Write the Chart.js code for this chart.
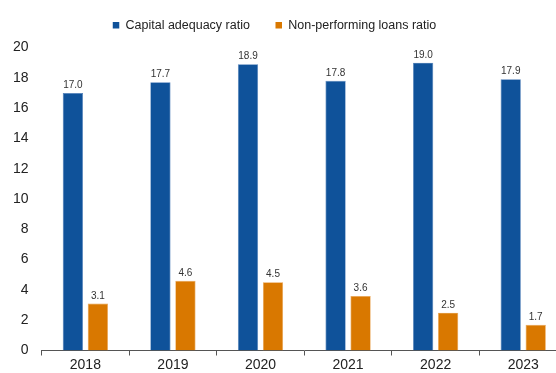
<!DOCTYPE html>
<html>
<head>
<meta charset="utf-8">
<script src="https://cdn.jsdelivr.net/npm/chart.js@4/dist/chart.umd.min.js"></script>
<style>
  html, body { margin: 0; padding: 0; background: #fff; overflow: hidden; }
  /* the plot runs a little past the right edge of the window */
  #wrap { width: 567px; height: 373px; }
</style>
</head>
<body>
<div id="wrap"><canvas id="chart"></canvas></div>
<script>
// Yearly bank ratios (%)
const years = ['2018', '2019', '2020', '2021', '2022', '2023'];
const capitalAdequacy = [17.0, 17.7, 18.9, 17.8, 19.0, 17.9];
const nplRatio = [3.1, 4.6, 4.5, 3.6, 2.5, 1.7];
const yTicks = [0, 2, 4, 6, 8, 10, 12, 14, 16, 18, 20];

const BLUE = '#0f529a';
const ORANGE = '#d97800';
const FONT = '"Liberation Sans", Arial, sans-serif';

// Write the value above every bar
const valueLabels = {
  id: 'valueLabels',
  afterDatasetsDraw(chart) {
    const ctx = chart.ctx;
    ctx.save();
    ctx.font = '10px ' + FONT;
    ctx.fillStyle = '#333';
    ctx.textAlign = 'center';
    ctx.textBaseline = 'alphabetic';
    chart.data.datasets.forEach((ds, i) => {
      chart.getDatasetMeta(i).data.forEach((bar, j) => {
        ctx.fillText(ds.data[j].toFixed(1), bar.x, bar.y - 5);
      });
    });
    ctx.restore();
  }
};

// Pull the legend up and a little left, keeping the wide gap between items
const legendNudge = {
  id: 'legendNudge',
  afterLayout(chart) {
    const lg = chart.legend;
    lg.top -= 5.9;
    lg.bottom -= 5.9;
    lg.left -= 9;
    lg.right -= 9;
  }
};

new Chart(document.getElementById('chart'), {
  type: 'bar',
  data: {
    labels: years,
    datasets: [
      {
        label: 'Capital adequacy ratio',
        data: capitalAdequacy,
        backgroundColor: BLUE,
        borderColor: '#4d7db8',
        borderWidth: 0.7,
        barPercentage: 0.81,
        categoryPercentage: 0.571
      },
      {
        label: 'Non-performing loans ratio',
        data: nplRatio,
        backgroundColor: ORANGE,
        borderColor: '#e9a04c',
        borderWidth: 0.7,
        barPercentage: 0.81,
        categoryPercentage: 0.571
      }
    ]
  },
  options: {
    responsive: true,
    maintainAspectRatio: false,
    animation: false,
    layout: { padding: { left: 0, right: 0, top: -0.6, bottom: -1.3 } },
    plugins: {
      tooltip: { enabled: false },
      legend: {
        position: 'top',
        align: 'center',
        labels: {
          boxWidth: 6.5,
          boxHeight: 6.5,
          padding: 25.6,
          color: '#222',
          font: { family: FONT, size: 12.5 },
          generateLabels(chart) {
            return Chart.defaults.plugins.legend.labels.generateLabels(chart)
              .map(item => Object.assign(item, { lineWidth: 0 }));
          }
        }
      }
    },
    scales: {
      x: {
        grid: {
          display: true,
          drawOnChartArea: false,
          drawTicks: true,
          tickLength: 5,
          offset: true,
          color: '#555'
        },
        border: { display: true, color: '#555', width: 1 },
        ticks: {
          color: '#222',
          padding: 1,
          font: { family: FONT, size: 14 }
        }
      },
      y: {
        min: yTicks[0],
        max: yTicks[yTicks.length - 1],
        afterBuildTicks(scale) {
          scale.ticks = yTicks.map(v => ({ value: v }));
        },
        grid: { display: false, drawTicks: false },
        border: { display: false },
        ticks: {
          color: '#222',
          padding: 13,
          font: { family: FONT, size: 14 }
        }
      }
    }
  },
  plugins: [valueLabels, legendNudge]
});
</script>
</body>
</html>
